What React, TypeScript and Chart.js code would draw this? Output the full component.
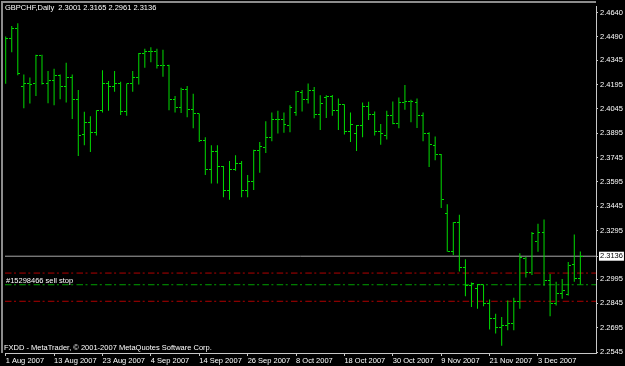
import React, { useEffect, useRef } from 'react';
import { Chart, registerables } from 'chart.js';

Chart.register(...registerables);

// ---- data ----
const symbolName = 'GBPCHF';
const timeframe = 'Daily';

const opens = [
  2.4359, 2.4477, 2.4538, 2.4180, 2.4202, 2.4200, 2.4373, 2.4202, 2.4223, 2.4253,
  2.4180, 2.4241, 2.4104, 2.3887, 2.3962, 2.3901, 2.4034, 2.4202, 2.4180, 2.4202,
  2.4029, 2.4202, 2.4237, 2.4384, 2.4400, 2.4400, 2.4315, 2.4315, 2.4104, 2.4054,
  2.4165, 2.4043, 2.4014, 2.3850, 2.3673, 2.3779, 2.3691, 2.3539, 2.3673, 2.3707,
  2.3539, 2.3596, 2.3789, 2.3805, 2.3870, 2.3982, 2.3982, 2.3942, 2.4023, 2.4145,
  2.4104, 2.4159, 2.4009, 2.4115, 2.4119, 2.4034, 2.4070, 2.3907, 2.3891, 2.3942,
  2.4060, 2.4013, 2.3907, 2.3881, 2.4007, 2.3952, 2.4084, 2.4089, 2.4084, 2.4003,
  2.3891, 2.3820, 2.3765, 2.3402, 2.3168, 2.3343, 2.3066, 2.2954, 2.2938, 2.2960,
  2.2842, 2.2751, 2.2696, 2.2706, 2.2720, 2.2858, 2.3123, 2.3036, 2.3229, 2.3284,
  2.2989, 2.2842, 2.2904, 2.2897, 2.3083, 2.3001,
];
const highs = [
  2.4492, 2.4556, 2.4573, 2.4257, 2.4239, 2.4379, 2.4379, 2.4278, 2.4292, 2.4257,
  2.4329, 2.4257, 2.4162, 2.4027, 2.3999, 2.4036, 2.4284, 2.4217, 2.4278, 2.4213,
  2.4202, 2.4278, 2.4390, 2.4416, 2.4426, 2.4416, 2.4410, 2.4318, 2.4125, 2.4176,
  2.4186, 2.4139, 2.4017, 2.3870, 2.3820, 2.3820, 2.3693, 2.3724, 2.3759, 2.3724,
  2.3637, 2.3793, 2.3840, 2.3968, 2.4023, 2.4034, 2.4023, 2.4068, 2.4156, 2.4162,
  2.4202, 2.4180, 2.4129, 2.4129, 2.4131, 2.4109, 2.4074, 2.4023, 2.3946, 2.4084,
  2.4089, 2.4029, 2.3952, 2.4034, 2.4090, 2.4115, 2.4192, 2.4101, 2.4109, 2.4023,
  2.3901, 2.3875, 2.3767, 2.3457, 2.3347, 2.3392, 2.3117, 2.2974, 2.2965, 2.2962,
  2.2869, 2.2781, 2.2761, 2.2863, 2.2879, 2.3154, 2.3133, 2.3286, 2.3337, 2.3362,
  2.3026, 2.2979, 2.2995, 2.3101, 2.3270, 2.3165,
];
const lows = [
  2.4200, 2.4394, 2.4253, 2.4049, 2.4078, 2.4125, 2.4196, 2.4080, 2.4068, 2.4104,
  2.4084, 2.3982, 2.3754, 2.3820, 2.3779, 2.3881, 2.4023, 2.4034, 2.4150, 2.4007,
  2.4003, 2.4150, 2.4196, 2.4298, 2.4333, 2.4294, 2.4243, 2.4037, 2.4023, 2.4019,
  2.3993, 2.3925, 2.3840, 2.3637, 2.3585, 2.3585, 2.3500, 2.3484, 2.3663, 2.3500,
  2.3500, 2.3545, 2.3651, 2.3773, 2.3846, 2.3893, 2.3897, 2.3901, 2.4003, 2.4029,
  2.4078, 2.3987, 2.3915, 2.3988, 2.4003, 2.3915, 2.3887, 2.3840, 2.3785, 2.3870,
  2.3976, 2.3881, 2.3823, 2.3856, 2.3950, 2.3925, 2.4040, 2.3962, 2.3927, 2.3846,
  2.3687, 2.3728, 2.3433, 2.3164, 2.3144, 2.3042, 2.2889, 2.2822, 2.2812, 2.2828,
  2.2684, 2.2659, 2.2584, 2.2679, 2.2679, 2.2812, 2.3005, 2.3020, 2.3164, 2.2954,
  2.2765, 2.2832, 2.2873, 2.2893, 2.2979, 2.2961,
];
const closes = [
  2.4477, 2.4538, 2.4261, 2.4202, 2.4196, 2.4373, 2.4202, 2.4223, 2.4253, 2.4180,
  2.4241, 2.4104, 2.3881, 2.3962, 2.3901, 2.4034, 2.4202, 2.4180, 2.4202, 2.4029,
  2.4202, 2.4237, 2.4384, 2.4400, 2.4400, 2.4315, 2.4315, 2.4104, 2.4054, 2.4165,
  2.4043, 2.4014, 2.3850, 2.3673, 2.3779, 2.3691, 2.3539, 2.3673, 2.3707, 2.3539,
  2.3596, 2.3789, 2.3814, 2.3870, 2.3982, 2.3982, 2.3948, 2.4052, 2.4150, 2.4104,
  2.4159, 2.4009, 2.4080, 2.4119, 2.4034, 2.4070, 2.3907, 2.3948, 2.3942, 2.4060,
  2.4013, 2.3907, 2.3891, 2.4007, 2.3952, 2.4084, 2.4089, 2.4089, 2.4003, 2.3891,
  2.3826, 2.3765, 2.3484, 2.3168, 2.3343, 2.3066, 2.2954, 2.2965, 2.2960, 2.2842,
  2.2751, 2.2696, 2.2706, 2.2720, 2.2858, 2.3127, 2.3036, 2.3276, 2.3284, 2.2989,
  2.2842, 2.2904, 2.2924, 2.3076, 2.3001, 2.3136,
];

const dateLabels = [
  '1 Aug 2007', '13 Aug 2007', '23 Aug 2007', '4 Sep 2007', '14 Sep 2007', '26 Sep 2007',
  '8 Oct 2007', '18 Oct 2007', '30 Oct 2007', '9 Nov 2007', '21 Nov 2007', '3 Dec 2007',
];
const dateTickIndex = [0, 8, 16, 24, 32, 40, 48, 56, 64, 72, 80, 88];

const priceTicks = [
  2.4640, 2.4490, 2.4345, 2.4195, 2.4045, 2.3895, 2.3745, 2.3595, 2.3445, 2.3295,
  2.2995, 2.2845, 2.2695, 2.2545,
];
const currentPrice = 2.3136;
const orderPrice = 2.2960;
const stopLevel = 2.3032;
const targetLevel = 2.2858;
const orderLabel = '#15298466 sell stop';
const copyright = 'FXDD - MetaTrader, \u00A9 2001-2007 MetaQuotes Software Corp.';

// ---- axis ranges ----
const X_MIN = -0.115;
const X_MAX = 97.59;
const Y_MIN = 2.253886;
const Y_MAX = 2.467665;

const FONT = '"Liberation Sans", Arial, sans-serif';
const FONT_SIZE = 7.5;
const BAR_COLOR = '#00dc00';

function tickImage(side: 'left' | 'right', color: string) {
  const c = document.createElement('canvas');
  c.width = 5;
  c.height = 1;
  const g = c.getContext('2d')!;
  g.fillStyle = color;
  if (side === 'left') g.fillRect(0, 0, 2, 1);
  else g.fillRect(3, 0, 2, 1);
  return c;
}

const framePlugin = {
  id: 'mtFrame',
  beforeDraw(chart: any) {
    const { ctx, chartArea } = chart;
    ctx.save();
    ctx.fillStyle = '#000000';
    ctx.fillRect(0, 0, chart.width, chart.height);
    ctx.fillStyle = '#8c8c8c';
    ctx.fillRect(1, 1, chartArea.right - 1, 2);
    ctx.fillRect(1, 1, 2, chartArea.bottom - 1);
    ctx.restore();
  },
  beforeDatasetsDraw(chart: any) {
    chart.ctx.imageSmoothingEnabled = false;
  },
};

const textPlugin = {
  id: 'mtText',
  afterDraw(chart: any) {
    const { ctx, chartArea } = chart;
    const n = closes.length - 1;
    ctx.save();
    ctx.font = `${FONT_SIZE}px ${FONT}`;
    ctx.fillStyle = '#ffffff';
    ctx.textBaseline = 'alphabetic';
    ctx.textAlign = 'left';
    const ohlc = [opens[n], highs[n], lows[n], closes[n]].map((v) => v.toFixed(4)).join(' ');
    ctx.fillText(`${symbolName},${timeframe}  ${ohlc}`, 5, 10);
    const yOrder = chart.scales.y.getPixelForValue(orderPrice);
    ctx.fillText(orderLabel, 6, yOrder - 2);
    ctx.fillText(copyright, 4, chartArea.bottom - 3.5);
    ctx.restore();
  },
};

function hLine(level: number, color: string, dash: number[]) {
  return {
    type: 'line' as const,
    data: [
      { x: X_MIN, y: level },
      { x: X_MAX, y: level },
    ],
    borderColor: color,
    borderWidth: 1,
    borderDash: dash,
    pointRadius: 0,
    fill: false,
    order: 5,
  };
}

export default function App() {
  const ref = useRef<HTMLCanvasElement | null>(null);

  useEffect(() => {
    if (!ref.current) return;
    const idx = opens.map((_, i) => i);
    const openImg = tickImage('left', BAR_COLOR);
    const closeImg = tickImage('right', BAR_COLOR);
    const dashDot = [6.5, 2.5, 2, 3.3];

    const chart = new Chart(ref.current, {
      type: 'bar',
      data: {
        datasets: [
          hLine(currentPrice, '#a8a8a8', []),
          hLine(stopLevel, '#b00000', dashDot),
          hLine(targetLevel, '#b00000', dashDot),
          hLine(orderPrice, '#00a000', dashDot),
          {
            type: 'bar',
            data: idx.map((i) => ({ x: i, y: [lows[i], highs[i]] })),
            backgroundColor: BAR_COLOR,
            borderWidth: 0,
            barThickness: 1,
            inflateAmount: 0,
            grouped: false,
            order: 2,
          } as any,
          {
            type: 'line',
            showLine: false,
            data: idx.map((i) => ({ x: i, y: opens[i] })),
            pointStyle: openImg,
            pointRadius: 2,
            order: 1,
          } as any,
          {
            type: 'line',
            showLine: false,
            data: idx.map((i) => ({ x: i, y: closes[i] })),
            pointStyle: closeImg,
            pointRadius: 2,
            order: 1,
          } as any,
        ],
      },
      options: {
        animation: false,
        responsive: false,
        maintainAspectRatio: false,
        devicePixelRatio: 1,
        events: [],
        layout: { padding: { left: 2, top: 3, right: 0, bottom: 0 } },
        plugins: {
          legend: { display: false },
          tooltip: { enabled: false },
        },
        scales: {
          x: {
            type: 'linear',
            min: X_MIN,
            max: X_MAX,
            offset: false,
            position: 'bottom',
            afterBuildTicks: (s: any) => {
              s.ticks = dateTickIndex.map((v) => ({ value: v }));
            },
            afterFit: (s: any) => {
              s.height = 13;
            },
            ticks: {
              callback: (_v: any, i: number) => dateLabels[i],
              align: 'start',
              autoSkip: false,
              maxRotation: 0,
              minRotation: 0,
              padding: 0,
              color: '#ffffff',
              font: { family: FONT, size: FONT_SIZE },
            },
            grid: {
              offset: false,
              drawOnChartArea: false,
              drawTicks: true,
              tickLength: 3,
              color: '#c8c8c8',
            },
            border: { display: true, color: '#c8c8c8' },
          },
          y: {
            type: 'linear',
            position: 'right',
            min: Y_MIN,
            max: Y_MAX,
            beginAtZero: false,
            afterBuildTicks: (s: any) => {
              s.ticks = [...priceTicks, currentPrice]
                .sort((a, b) => a - b)
                .map((v) => ({ value: v }));
            },
            afterFit: (s: any) => {
              s.width = 29;
            },
            ticks: {
              callback: (v: any) => Number(v).toFixed(4),
              autoSkip: false,
              padding: 2,
              color: (c: any) => (c.tick && c.tick.value === currentPrice ? '#000000' : '#ffffff'),
              showLabelBackdrop: (c: any) => !!(c.tick && c.tick.value === currentPrice),
              backdropColor: '#ffffff',
              backdropPadding: { top: 0, bottom: 0, left: 1, right: 1 },
              font: { family: FONT, size: FONT_SIZE },
            } as any,
            grid: {
              drawOnChartArea: false,
              drawTicks: true,
              tickLength: 2,
              color: '#c8c8c8',
            },
            border: { display: true, color: '#c8c8c8' },
          },
        },
      } as any,
      plugins: [framePlugin, textPlugin],
    });

    return () => chart.destroy();
  }, []);

  return (
    <div
      style={{
        position: 'fixed',
        left: 0,
        top: 0,
        width: 625,
        height: 366,
        background: '#000',
      }}
    >
      <canvas ref={ref} width={625} height={366} style={{ display: 'block' }} />
    </div>
  );
}
